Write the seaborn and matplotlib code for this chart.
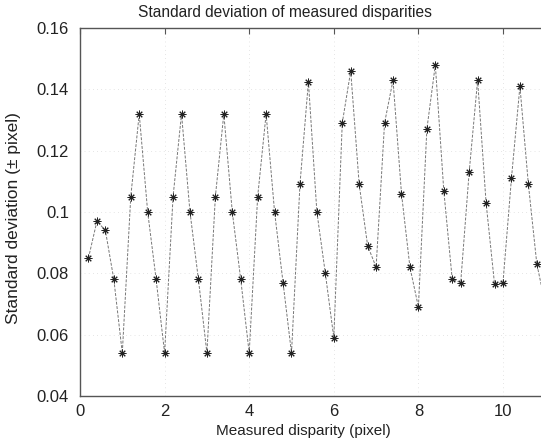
import matplotlib
matplotlib.use("Agg")
import matplotlib.pyplot as plt
import seaborn as sns
import pandas as pd

# Measured disparity (pixel) and the standard deviation at each step
disparity = [0.2, 0.4, 0.6, 0.8, 1.0, 1.2, 1.4, 1.6, 1.8, 2.0,
             2.2, 2.4, 2.6, 2.8, 3.0, 3.2, 3.4, 3.6, 3.8, 4.0,
             4.2, 4.4, 4.6, 4.8, 5.0, 5.2, 5.4, 5.6, 5.8, 6.0,
             6.2, 6.4, 6.6, 6.8, 7.0, 7.2, 7.4, 7.6, 7.8, 8.0,
             8.2, 8.4, 8.6, 8.8, 9.0, 9.2, 9.4, 9.6, 9.8, 10.0,
             10.2, 10.4, 10.6, 10.8, 11.0]
std_dev = [0.085, 0.097, 0.094, 0.078, 0.054, 0.105, 0.132, 0.100, 0.078, 0.054,
           0.105, 0.132, 0.100, 0.078, 0.054, 0.105, 0.132, 0.100, 0.078, 0.054,
           0.105, 0.132, 0.100, 0.077, 0.054, 0.109, 0.1425, 0.100, 0.080, 0.059,
           0.129, 0.146, 0.109, 0.089, 0.082, 0.129, 0.143, 0.106, 0.082, 0.069,
           0.127, 0.148, 0.107, 0.078, 0.077, 0.113, 0.143, 0.103, 0.0765, 0.077,
           0.111, 0.141, 0.109, 0.083, 0.070]

x_ticks = [0, 2, 4, 6, 8, 10]
y_ticks = [0.04, 0.06, 0.08, 0.10, 0.12, 0.14, 0.16]
y_tick_labels = ["0.04", "0.06", "0.08", "0.1", "0.12", "0.14", "0.16"]

sns.set_style("white")
plt.rcParams["font.family"] = ["Liberation Sans", "DejaVu Sans"]

df = pd.DataFrame({"disparity": disparity, "std": std_dev})

W, H = 541, 440
fig = plt.figure(figsize=(W / 100, H / 100), dpi=100)
ax_left, ax_bottom, ax_top = 80, 396, 28
ax_right = 80 + 12 * 42.3
ax = fig.add_axes([ax_left / W, (H - ax_bottom) / H,
                   (ax_right - ax_left) / W, (ax_bottom - ax_top) / H])

sns.lineplot(data=df, x="disparity", y="std", ax=ax, color="#777777",
             linewidth=0.7, linestyle=(0, (3, 1.5)), marker=(8, 2, 0),
             markersize=5.5, markeredgewidth=0.7, markeredgecolor="#222222")

ax.set_xlim(0, 12)
ax.set_ylim(0.04, 0.16)
ax.set_xticks(x_ticks)
ax.set_yticks(y_ticks)
ax.set_yticklabels(y_tick_labels)
ax.set_xlabel("")
ax.set_ylabel("")
ax.grid(True, linestyle=(0, (1, 5)), color="#cccccc", linewidth=0.5)

for side in ["left", "bottom", "top", "right"]:
    ax.spines[side].set_color("#555555")
    ax.spines[side].set_linewidth(1.0)
ax.tick_params(direction="in", length=4, width=0.8, colors="#555555",
               labelcolor="#222222", labelsize=12, top=True, right=False)
ax.tick_params(axis="y", pad=8)
ax.tick_params(axis="x", pad=6)

fig.text(284.5 / W, 1 - 12 / H, "Standard deviation of measured disparities",
         ha="center", va="center", fontsize=11.2, color="#222222")
fig.text(303.5 / W, 1 - 431 / H, "Measured disparity (pixel)",
         ha="center", va="center", fontsize=11, color="#222222")
fig.text(14 / W, 1 - 218 / H, "Standard deviation (\u00b1 pixel)",
         ha="center", va="center", rotation=90, fontsize=12.5, color="#222222")

fig.savefig("out.png", dpi=100)
